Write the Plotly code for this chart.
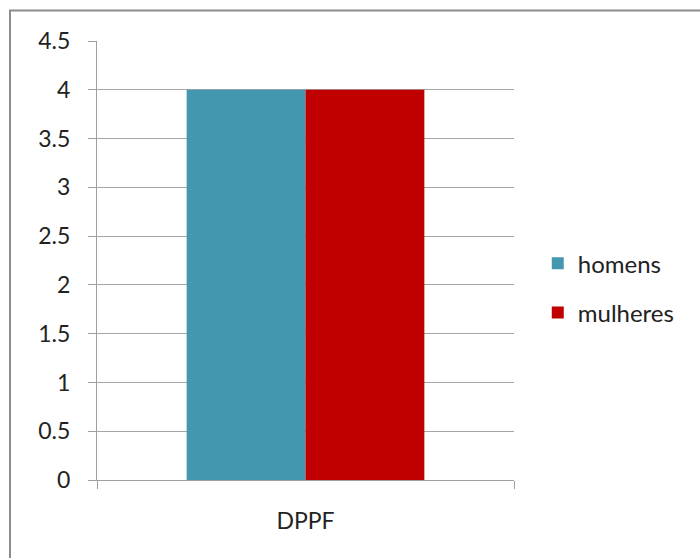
import plotly.graph_objects as go

categories = ["DPPF"]
homens = [4]
mulheres = [4]
series_names = ["homens", "mulheres"]
y_ticks = [0, 0.5, 1, 1.5, 2, 2.5, 3, 3.5, 4, 4.5]
y_ticklabels = ["0", "0.5", "1", "1.5", "2", "2.5", "3", "3.5", "4", "4.5"]

FONT = "Lato"
fig = go.Figure()
fig.add_trace(go.Bar(x=categories, y=homens, name=series_names[0], legendgroup="a",
                     marker=dict(color="#4398B0", line=dict(width=0))))
fig.add_trace(go.Bar(x=categories, y=mulheres, name=series_names[1], legendgroup="b",
                     marker=dict(color="#C00000", line=dict(width=0))))

fig.update_layout(
    width=700, height=558,
    margin=dict(l=97, r=186, t=41, b=78),
    paper_bgcolor="white", plot_bgcolor="white",
    barmode="group", bargap=0.43, bargroupgap=0,
    font=dict(family=FONT, size=23, color="#222222"),
    showlegend=True,
    legend=dict(x=1.057, xanchor="left", y=0.437, yanchor="middle",
                tracegroupgap=15, font=dict(size=24, color="#222222"),
                bgcolor="rgba(0,0,0,0)"),
    xaxis=dict(type="category", range=[-0.5, 0.5], showgrid=False,
               showline=True, linecolor="#a0a0a0", linewidth=1,
               ticks="outside", tickson="boundaries", ticklen=8, tickcolor="#a0a0a0",
               ticklabelstandoff=20, fixedrange=True),
    yaxis=dict(range=[0, 4.5], tickvals=y_ticks, ticktext=y_ticklabels,
               showgrid=True, gridcolor="#a6a6a6", gridwidth=1,
               showline=True, linecolor="#a0a0a0", linewidth=1,
               ticks="outside", ticklen=8, tickcolor="#a0a0a0",
               ticklabelstandoff=13, zeroline=False, fixedrange=True),
    shapes=[dict(type="rect", xref="paper", yref="paper",
                 x0=(10 - 97) / 417, x1=3, y0=-2, y1=(480 - 10.5) / 439,
                 line=dict(color="#8c8c8c", width=2), fillcolor="rgba(0,0,0,0)",
                 layer="below")],
)

fig.write_html("out.html", config={"displayModeBar": False},
               post_script="document.body.style.margin='0';")
